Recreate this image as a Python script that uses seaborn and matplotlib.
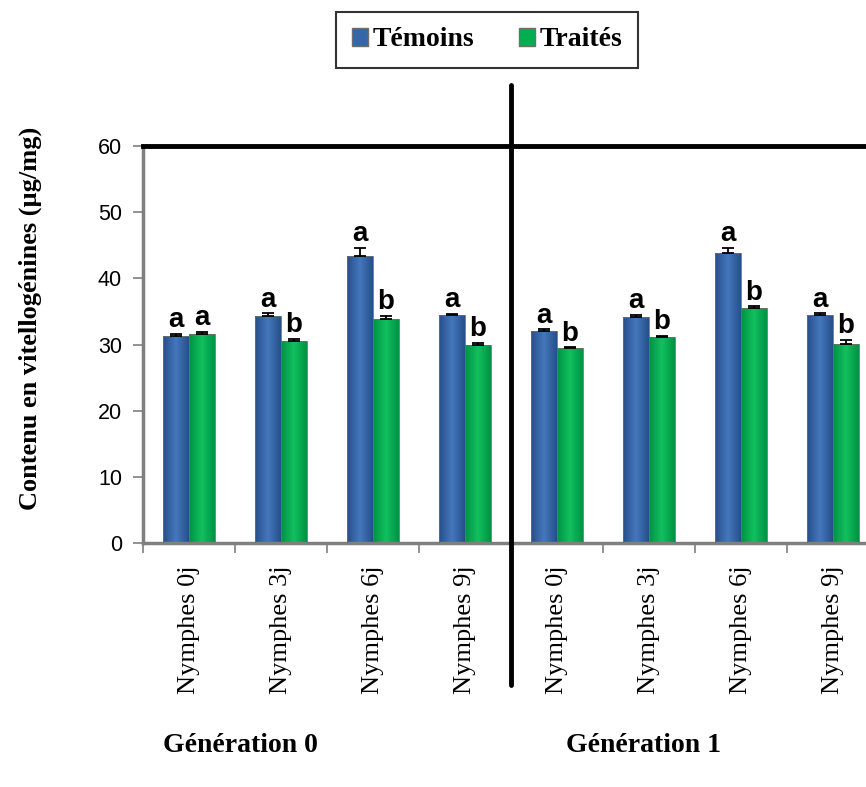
import numpy as np
import pandas as pd
import matplotlib
matplotlib.use("Agg")
import matplotlib.pyplot as plt
from matplotlib.colors import LinearSegmentedColormap
from matplotlib.patches import Patch
import seaborn as sns

# Data
stages = ["Nymphes 0j", "Nymphes 3j", "Nymphes 6j", "Nymphes 9j"]
generations = ["Génération 0", "Génération 1"]
temoins = [31.3, 34.3, 43.4, 34.4, 32.0, 34.1, 43.8, 34.4]
traites = [31.6, 30.5, 33.8, 30.0, 29.4, 31.1, 35.5, 30.1]
temoins_err = [0.3, 0.4, 1.2, 0.2, 0.3, 0.4, 0.8, 0.3]
traites_err = [0.3, 0.4, 0.5, 0.3, 0.2, 0.2, 0.3, 0.6]
temoins_letters = ["a", "a", "a", "a", "a", "a", "a", "a"]
traites_letters = ["a", "b", "b", "b", "b", "b", "b", "b"]

lots = ["Témoins", "Traités"]
colors = {"Témoins": "#3566A8", "Traités": "#00B050"}
grad = {"Témoins": ["#27508A", "#4477BD", "#27508A"],
        "Traités": ["#009242", "#12C160", "#009242"]}

groups = [f"G{g} {s}" for g in range(2) for s in stages]
df = pd.DataFrame({
    "groupe": groups * 2,
    "lot": ["Témoins"] * 8 + ["Traités"] * 8,
    "valeur": temoins + traites,
})
errs = {"Témoins": temoins_err, "Traités": traites_err}
letters = {"Témoins": temoins_letters, "Traités": traites_letters}

sns.set_theme(style="white")
plt.rcParams["font.family"] = ["Liberation Serif", "DejaVu Serif"]
plt.rcParams["text.color"] = "black"
plt.rcParams["xtick.labelcolor"] = "black"
plt.rcParams["ytick.labelcolor"] = "black"

fig = plt.figure(figsize=(8.66, 7.87), dpi=100)
ax = fig.add_axes([0.165, 0.310, 0.85, 0.5045])

sns.barplot(data=df, x="groupe", y="valeur", hue="lot", order=groups,
            hue_order=lots, palette=colors, width=0.56, errorbar=None,
            legend=False, ax=ax)

# shaded fill + error bars + letters
for lot, cont in zip(lots, ax.containers):
    cmap = LinearSegmentedColormap.from_list(lot, grad[lot])
    xs, hs = [], []
    for p in cont.patches:
        x0, w, h = p.get_x(), p.get_width(), p.get_height()
        img = ax.imshow(np.linspace(0, 1, 64).reshape(1, -1), cmap=cmap,
                        extent=[x0, x0 + w, 0, h], aspect="auto", zorder=2)
        img.set_clip_path(p)
        p.set_facecolor("none")
        p.set_edgecolor("#6e6e6e")
        p.set_linewidth(0.6)
        p.set_zorder(3)
        xs.append(x0 + w / 2)
        hs.append(h)
    e = errs[lot]
    ax.errorbar(xs, hs, yerr=[np.zeros(len(e)), e], fmt="none", ecolor="black",
                elinewidth=1.3, capsize=4, capthick=1.3, zorder=4)
    for x, h, er, lt in zip(xs, hs, e, letters[lot]):
        ax.text(x, h + er + 1.0, lt, ha="center", va="baseline", fontsize=20,
                fontweight="bold", family="Liberation Sans", color="black",
                zorder=5)

ax.set_xlim(-0.5, 7.5)
ax.set_ylim(0, 60)

ax.set_xticks(np.arange(-0.5, 8, 1))
ax.set_xticklabels([])
ax.set_xticks(range(8), minor=True)
ax.set_xticklabels(stages * 2, minor=True, rotation=90, fontsize=19)
ax.tick_params(axis="x", which="major", bottom=True, length=7, width=1.2,
               color="#7f7f7f", direction="out")
ax.tick_params(axis="x", which="minor", bottom=True, length=0, pad=16,
               labelcolor="black")

ax.set_yticks(range(0, 61, 10))
ax.tick_params(axis="y", left=True, length=7, width=1.2, color="#7f7f7f",
               direction="out", pad=8, labelcolor="black")
for lab in ax.get_yticklabels():
    lab.set_family("Liberation Sans")
    lab.set_fontsize(15.5)
ax.set_xlabel("")
ax.set_ylabel("")

ax.spines["top"].set_color("black")
ax.spines["top"].set_linewidth(3.5)
ax.spines["left"].set_color("#7f7f7f")
ax.spines["left"].set_linewidth(2.5)
ax.spines["bottom"].set_color("#7f7f7f")
ax.spines["bottom"].set_linewidth(2.5)
ax.spines["right"].set_visible(False)

# separator between the two generations
ax.axvline(3.5, ymin=-0.358, ymax=1.154, color="black", lw=3.5, clip_on=False,
           zorder=6)

fig.text(0.035, 0.596, "Contenu en vitellogénines (µg/mg)", rotation=90,
         ha="center", va="center", fontsize=19, fontweight="bold",
         color="black")
fig.text(240 / 866, 1 - 745 / 787, generations[0], ha="center", va="center",
         fontsize=20, fontweight="bold", color="black")
fig.text(643 / 866, 1 - 745 / 787, generations[1], ha="center", va="center",
         fontsize=20, fontweight="bold", color="black")

handles = [Patch(facecolor=colors[l], edgecolor="#6e6e6e", label=l) for l in lots]
leg = fig.legend(handles=handles, loc="center", ncol=2,
                 bbox_to_anchor=(487 / 866, 1 - 40 / 787), frameon=True,
                 fancybox=False, edgecolor="black", handlelength=0.6,
                 handleheight=0.6, handletextpad=0.15, columnspacing=1.6,
                 borderpad=0.55, prop={"weight": "bold", "size": 20,
                                       "family": "Liberation Serif"})
leg.get_frame().set_linewidth(1.5)
for t in leg.get_texts():
    t.set_color("black")

fig.savefig("out.png", dpi=100)
